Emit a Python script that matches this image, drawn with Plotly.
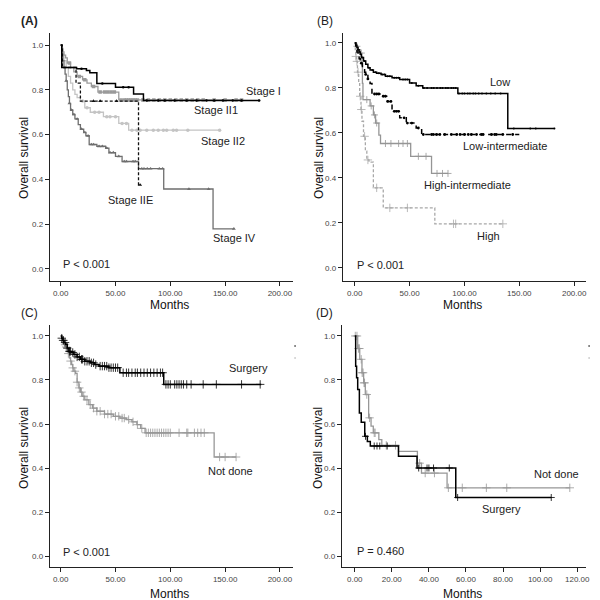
import numpy as np
from plotly import graph_objects as go

# ---- panel A: stage ----
a_stage1_t = [0, 1, 14.5, 23.5, 26.6, 33, 50, 66.5, 75.5, 182]
a_stage1_s = [1.0, 0.90, 0.894, 0.887, 0.876, 0.829, 0.812, 0.782, 0.753, 0.753]
a_stage1_c = [19, 38, 57, 62, 78.5, 89, 95, 104, 115, 124, 133, 140, 148, 157, 165, 181]

a_stage2_1_t = [0, 1, 2, 3, 4.5, 6, 9, 12, 15, 20, 24, 28, 34, 53, 166]
a_stage2_1_s = [1.0, 0.985, 0.97, 0.955, 0.943, 0.92, 0.90, 0.88, 0.86, 0.845, 0.83, 0.815, 0.79, 0.755, 0.755]
a_stage2_1_c = [8, 17, 22, 30, 36, 40, 43, 46, 49, 55, 58, 60, 62, 64, 66, 68, 70, 75, 80, 85, 90,
                95, 100, 105, 110, 115, 120, 125, 130, 140, 150, 160, 165]

a_stage2_2_t = [0, 1, 2, 3, 5, 7, 9, 11, 13, 15, 18, 22, 27, 39, 53, 62, 145]
a_stage2_2_s = [1.0, 0.98, 0.96, 0.93, 0.90, 0.86, 0.83, 0.80, 0.78, 0.765, 0.75, 0.72, 0.70, 0.68, 0.65, 0.62, 0.62]
a_stage2_2_c = [20, 24, 31, 35, 42, 45, 50, 56, 60, 65, 69.5, 72.5, 78.5, 84.5, 89, 93.7, 96.7, 102.7,
                105.7, 116, 145]

a_stage2e_t = [0, 1.5, 14, 18, 71, 72.5]
a_stage2e_s = [1.0, 0.90, 0.83, 0.75, 0.375, 0.375]
a_stage2e_c = [30, 36, 51, 72.5]

a_stage4_t = [0, 1, 2, 3, 4, 5, 6, 7, 8, 9, 11, 13, 16, 18, 21, 23, 26, 33, 41, 44, 50, 56, 71, 94, 139, 158]
a_stage4_s = [1.0, 0.96, 0.93, 0.90, 0.87, 0.84, 0.80, 0.77, 0.74, 0.71, 0.69, 0.67, 0.645, 0.625, 0.61,
              0.595, 0.556, 0.548, 0.54, 0.52, 0.503, 0.48, 0.448, 0.357, 0.179, 0.179]
a_stage4_c = [5, 8, 10, 12, 15, 19, 22, 25, 28, 30, 35, 38, 42, 45, 48, 53, 58, 60, 66, 68, 74, 76, 79,
              82, 90, 93, 117, 135, 158]

# ---- panel B: risk group ----
b_low_t = [0, 1, 2, 3, 4, 5, 6, 8, 10, 12, 14, 17, 20, 24, 28, 34, 41, 50, 56, 62, 94, 139.5, 182]
b_low_s = [1.0, 0.99, 0.98, 0.97, 0.96, 0.95, 0.935, 0.92, 0.905, 0.89, 0.88, 0.87, 0.865, 0.86, 0.852,
           0.845, 0.837, 0.822, 0.81, 0.80, 0.775, 0.62, 0.62]
b_low_c = [3, 7, 9, 13, 16, 19, 22, 25, 27, 30, 32, 36, 38, 40, 44, 46, 48, 52, 58, 63, 66, 70, 72, 75, 78,
           80, 83, 85, 88, 90, 92, 95, 98, 100, 103, 105, 108, 110, 113, 116, 120, 124, 128, 133, 145,
           160, 165, 182]

b_lowint_t = [0, 1, 2, 3, 4, 5, 7, 9, 10, 12, 14, 15.7, 25, 30, 34, 41, 47, 56, 61, 150]
b_lowint_s = [1.0, 0.98, 0.96, 0.95, 0.93, 0.91, 0.89, 0.87, 0.86, 0.84, 0.82, 0.773, 0.763, 0.74, 0.696,
              0.667, 0.644, 0.622, 0.593, 0.593]
b_lowint_c = [6, 10, 12, 18, 20, 22, 26, 28, 30, 33, 36, 38, 40, 45, 48, 52, 58, 62.5, 70, 71.6, 74.6,
              77.6, 82, 88, 93, 96, 100, 103.5, 106.3, 111, 115.4, 117, 124.6, 127.5, 129, 135, 144]

b_highint_t = [0, 1, 3, 5, 6.5, 7, 7.5, 14, 17, 19, 22, 23.5, 51, 70, 85]
b_highint_s = [1.0, 0.985, 0.97, 0.955, 0.90, 0.82, 0.748, 0.72, 0.68, 0.644, 0.59, 0.553, 0.496, 0.42, 0.42]
b_highint_c = [2, 6, 11, 15, 18, 20, 28, 33, 40, 44, 48, 58, 65, 75, 80, 85]

b_high_t = [0, 0.5, 1, 1.5, 2.5, 3.6, 4.5, 5.7, 6.6, 8, 9.7, 11, 13, 17, 26, 73, 135]
b_high_s = [1.0, 0.963, 0.94, 0.918, 0.87, 0.822, 0.763, 0.704, 0.652, 0.585, 0.519, 0.48, 0.47, 0.356,
            0.267, 0.196, 0.196]
b_high_c = [1, 2, 3, 5, 6, 9, 12, 20, 32, 48, 90, 92, 135]

# ---- panel C: surgery, all ----
c_surg_t = [0, 1, 2, 3, 4.5, 6, 7.5, 10, 12, 15, 18, 22, 27, 31, 35, 44, 54, 94, 183]
c_surg_s = [1.0, 0.99, 0.98, 0.97, 0.962, 0.945, 0.93, 0.925, 0.916, 0.905, 0.894, 0.885, 0.878, 0.87,
            0.863, 0.856, 0.833, 0.78, 0.78]
c_surg_c = [1, 2.5, 4, 6, 8, 9, 11, 13, 15, 17, 19, 20, 22, 24, 26, 28, 30, 32, 36, 38, 40, 42, 44, 46,
            48, 50, 52, 57, 60, 62, 65, 68, 70, 73, 76, 79, 82, 85, 88, 91, 93, 96, 98, 100, 104, 106,
            108, 110, 112, 115, 119, 130, 142, 165, 182]

c_notdone_t = [0, 1, 2, 3, 4, 5, 6, 7, 8, 9, 10, 11, 12, 13.6, 15, 16.6, 18, 19.6, 22, 25.7, 29, 33, 40,
               48, 54, 60, 65, 69.5, 73, 77, 140, 160]
c_notdone_s = [1.0, 0.99, 0.98, 0.97, 0.96, 0.95, 0.94, 0.92, 0.90, 0.886, 0.87, 0.855, 0.84, 0.83, 0.79,
               0.764, 0.745, 0.726, 0.71, 0.688, 0.672, 0.658, 0.645, 0.635, 0.627, 0.62, 0.61, 0.597,
               0.58, 0.56, 0.45, 0.45]
c_notdone_c = [2, 4, 5, 7, 9, 11, 13, 15, 17, 19, 21, 24, 27, 30, 33, 36, 40, 43, 46, 50, 53, 56, 58,
               62, 66, 70, 74, 78, 80, 82, 84, 86, 88, 90, 92, 94, 96, 98, 100, 108, 115, 116, 122, 125,
               128, 131, 145, 150, 160]

# ---- panel D: surgery, stage IV ----
d_surg_t = [0, 0.5, 1, 1.6, 2.5, 3.5, 5.4, 6.8, 8.4, 23.6, 33.6, 54.5, 106]
d_surg_s = [1.0, 0.863, 0.81, 0.757, 0.65, 0.608, 0.544, 0.52, 0.50, 0.453, 0.40, 0.266, 0.266]
d_surg_c = [5.8, 10.5, 12, 13.5, 17.5, 34.5, 39, 40, 42.5, 51, 55.5, 106]

d_notdone_t = [0, 1.6, 2.7, 3.9, 4.8, 5.7, 7.5, 8.8, 10, 13, 14.6, 23.6, 33.8, 36, 49.8, 116]
d_notdone_s = [1.0, 0.943, 0.894, 0.833, 0.787, 0.734, 0.628, 0.59, 0.56, 0.529, 0.503, 0.476, 0.422,
               0.377, 0.31, 0.31]
d_notdone_c = [0.3, 1.2, 2.0, 2.5, 3.5, 4.0, 4.5, 5, 5.3, 6.5, 8, 10.5, 11, 17, 22, 35, 38, 43, 50.5,
               58, 71, 82, 116]

FONT = "Liberation Sans, Arial, sans-serif"


def at_time(t, s, tc):
    idx = np.searchsorted(np.asarray(t), np.asarray(tc), side="right") - 1
    return np.asarray(s)[idx]


fig = go.Figure()


def km(t, s, tc, ax, color, width=1.3, dash="solid", symbol="cross-thin-open", msize=5, mline=0.8):
    xa, ya = ("x", "y") if ax == 1 else ("x%d" % ax, "y%d" % ax)
    fig.add_trace(go.Scatter(x=t, y=s, mode="lines", xaxis=xa, yaxis=ya,
                             line=dict(shape="hv", color=color, width=width, dash=dash),
                             hoverinfo="skip"))
    fig.add_trace(go.Scatter(x=tc, y=at_time(t, s, tc), mode="markers", xaxis=xa, yaxis=ya,
                             marker=dict(symbol=symbol, size=msize, color=color,
                                         line=dict(color=color, width=mline)),
                             hoverinfo="skip"))


# A
km(a_stage2_2_t, a_stage2_2_s, a_stage2_2_c, 1, "#c4c4c4", symbol="circle", msize=3.5, mline=0)
km(a_stage2_1_t, a_stage2_1_s, a_stage2_1_c, 1, "#9a9a9a", symbol="square", msize=3.5, mline=0)
km(a_stage4_t, a_stage4_s, a_stage4_c, 1, "#6e6e6e", symbol="triangle-up", msize=3.5, mline=0)
km(a_stage2e_t, a_stage2e_s, a_stage2e_c, 1, "#111111", dash="3px,2px", symbol="triangle-up", msize=3.5, mline=0)
km(a_stage1_t, a_stage1_s, a_stage1_c, 1, "#000000", width=1.5, symbol="circle", msize=2.5, mline=0)
# B
km(b_high_t, b_high_s, b_high_c, 2, "#a8a8a8", dash="3px,2px", msize=6)
km(b_highint_t, b_highint_s, b_highint_c, 2, "#959595", msize=5)
km(b_lowint_t, b_lowint_s, b_lowint_c, 2, "#000000", width=1.5, dash="5px,4px", symbol="circle", msize=2.8, mline=0)
km(b_low_t, b_low_s, b_low_c, 2, "#000000", width=1.5, symbol="circle", msize=2, mline=0)
# C
km(c_notdone_t, c_notdone_s, c_notdone_c, 3, "#979797", msize=6)
km(c_surg_t, c_surg_s, c_surg_c, 3, "#000000", width=1.5, msize=6)
# D
km(d_notdone_t, d_notdone_s, d_notdone_c, 4, "#979797", msize=6)
km(d_surg_t, d_surg_s, d_surg_c, 4, "#000000", width=1.5, msize=5)

axis_common = dict(showline=True, linecolor="#222222", linewidth=1, showgrid=False, zeroline=False,
                   ticks="outside", ticklen=4, tickcolor="#222222",
                   tickfont=dict(family=FONT, size=8, color="#444444"))

xt200 = [0, 50, 100, 150, 200]
xt120 = [0, 20, 40, 60, 80, 100, 120]
yt = [0, 0.2, 0.4, 0.6, 0.8, 1.0]

fig.update_layout(
    width=600, height=600, margin=dict(l=0, r=0, t=0, b=0),
    paper_bgcolor="white", plot_bgcolor="white", showlegend=False,
    xaxis=dict(axis_common, domain=[0.07, 0.4783], range=[-10, 212], tickvals=xt200, tickformat=".2f", anchor="y"),
    yaxis=dict(axis_common, domain=[0.545, 0.9583], range=[-0.054, 1.054], tickvals=yt, tickformat=".1f", anchor="x"),
    xaxis2=dict(axis_common, domain=[0.5617, 0.97], range=[-10.9, 210.9], tickvals=xt200, tickformat=".2f", anchor="y2"),
    yaxis2=dict(axis_common, domain=[0.545, 0.9583], range=[-0.058, 1.044], tickvals=yt, tickformat=".1f", anchor="x2"),
    xaxis3=dict(axis_common, domain=[0.07, 0.4783], range=[-10, 212], tickvals=xt200, tickformat=".2f", anchor="y3"),
    yaxis3=dict(axis_common, domain=[0.0683, 0.4717], range=[-0.05, 1.05], tickvals=yt, tickformat=".1f", anchor="x3"),
    xaxis4=dict(axis_common, domain=[0.56, 0.97], range=[-7, 124.8], tickvals=xt120, tickformat=".2f", anchor="y4"),
    yaxis4=dict(axis_common, domain=[0.0683, 0.4717], range=[-0.05, 1.05], tickvals=yt, tickformat=".1f", anchor="x4"),
)

ann = []


def txt(x, y, s, ref="paper", size=11, xanchor="center", bold=False, angle=0, color="#222222"):
    xr, yr = ("paper", "paper") if ref == "paper" else ref
    if bold:
        s = "<b>" + s + "</b>"
    ann.append(dict(x=x, y=y, xref=xr, yref=yr, text=s, showarrow=False, xanchor=xanchor, yanchor="middle",
                    textangle=angle, font=dict(family=FONT, size=size, color=color)))


# panel letters
txt(22 / 600, 1 - 13 / 600, "(A)", size=12, bold=True)
txt(319 / 600, 1 - 13 / 600, "(B)", size=12)
txt(22 / 600, 1 - 305 / 600, "(C)", size=12)
txt(319 / 600, 1 - 305 / 600, "(D)", size=12)
# axis titles
for xp, yp in [(16, 150), (313, 150), (16, 440), (312, 440)]:
    txt(xp / 600, 1 - yp / 600, "Overall survival", size=12, angle=-90, color="#111111")
for xp, yp in [(163, 297), (458, 297), (163, 586), (458, 586)]:
    txt(xp / 600, 1 - yp / 600, "Months", size=12, color="#111111")

# curve labels
txt(184.6, 0.795, "Stage I", ref=("x", "y"))
txt(142, 0.71, "Stage II1", ref=("x", "y"))
txt(148, 0.57, "Stage II2", ref=("x", "y"))
txt(64, 0.31, "Stage IIE", ref=("x", "y"))
txt(159, 0.14, "Stage IV", ref=("x", "y"))
txt(0, 0.02, "P < 0.001", ref=("x", "y"), xanchor="left")

txt(132, 0.827, "Low", ref=("x2", "y2"))
txt(137, 0.542, "Low-intermediate", ref=("x2", "y2"))
txt(103, 0.369, "High-intermediate", ref=("x2", "y2"))
txt(122, 0.142, "High", ref=("x2", "y2"))
txt(0, 0.013, "P < 0.001", ref=("x2", "y2"), xanchor="left")

txt(171, 0.855, "Surgery", ref=("x3", "y3"))
txt(155, 0.386, "Not done", ref=("x3", "y3"))
txt(0, 0.02, "P < 0.001", ref=("x3", "y3"), xanchor="left")

txt(109, 0.373, "Not done", ref=("x4", "y4"))
txt(79, 0.214, "Surgery", ref=("x4", "y4"))
txt(0, 0.023, "P = 0.460", ref=("x4", "y4"), xanchor="left")

fig.update_layout(annotations=ann)

# stray legend dots on the right of C and D
shapes = []
for xp in [289, 585]:
    for yp, col in [(338, "#333333"), (350, "#bbbbbb")]:
        shapes.append(dict(type="rect", xref="paper", yref="paper", x0=(xp - 0.7) / 600, x1=(xp + 0.7) / 600,
                           y0=1 - (yp + 0.7) / 600, y1=1 - (yp - 0.7) / 600, fillcolor=col, line=dict(width=0)))
fig.update_layout(shapes=shapes)

fig.write_html("out.html")
